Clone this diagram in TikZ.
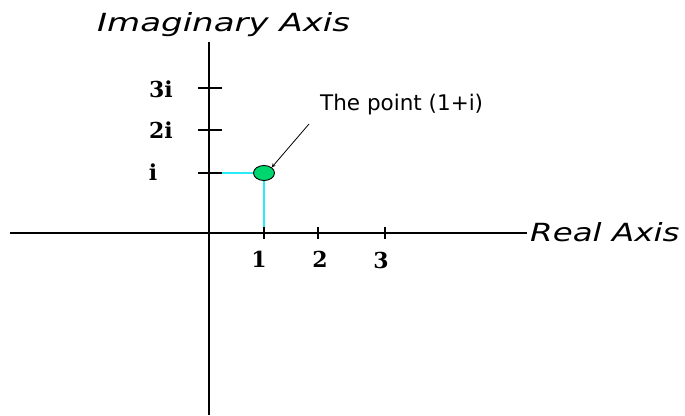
\documentclass[tikz,border=0pt]{standalone}
\usepackage{fontspec}
\setmainfont{DejaVu Sans}
\newfontfamily\lblfont{DejaVu Serif}
\usetikzlibrary{shapes.geometric}
\definecolor{ptgreen}{RGB}{0,214,110}
\definecolor{guidecyan}{RGB}{40,235,245}
\begin{document}
\begin{tikzpicture}[x=1pt,y=-1pt,
  axis/.style={line width=1.2pt,black},
  tick/.style={line width=1.1pt,black},
  guide/.style={line width=1.5pt,guidecyan},
  lbl/.style={font=\lblfont\bfseries\fontsize{22}{22}\selectfont,inner sep=0pt},
  title/.style={font=\fontsize{25}{25}\selectfont\itshape,inner sep=0pt}]
\useasboundingbox (0,0) rectangle (685,415);
\fill[white] (0,0) rectangle (685,415);
% axes
\coordinate (ytop) at (209,42);
\coordinate (ybot) at (209,415);
\coordinate (xl) at (10,233);
\coordinate (xr) at (527,233);
\draw[axis] (ytop) -- (ybot);
\draw[axis] (xl) -- (xr);
% y ticks
\foreach \y/\n in {88/3,130/2,173/1}{
  \coordinate (yt\n a) at (198,\y);
  \coordinate (yt\n b) at (222,\y);
  \draw[tick] (yt\n a) -- (yt\n b);
}
% x ticks
\foreach \x/\n in {264/1,318/2,385/3}{
  \coordinate (xt\n a) at (\x,227);
  \coordinate (xt\n b) at (\x,239);
  \draw[tick] (xt\n a) -- (xt\n b);
}
% labels
\node[lbl] (l3i) at (161,89) {3i};
\node[lbl] (l2i) at (161,130) {2i};
\node[lbl] (li) at (153,172) {i};
\node[lbl] (l1) at (259,259) {1};
\node[lbl] (l2) at (320,259) {2};
\node[lbl] (l3) at (381,260) {3};
% point
\node[ellipse,draw=black,line width=0.9pt,fill=ptgreen,minimum width=21pt,minimum height=15pt,inner sep=0pt] (pt) at (264,173) {};
\draw[guide] (yt1b) -- (pt.west);
\draw[guide] (pt.south) -- (xt1a);
% titles
\node[title,anchor=west] (ia) at (97,25) {\scalebox{1.36}[1]{Imaginary Axis}};
\node[title,anchor=west] (ra) at (530,232) {\scalebox{1.3}[1]{Real Axis}};
\node[font=\fontsize{21.5}{21.5}\selectfont,anchor=west,inner sep=0pt] (tp) at (320,105) {The point (1+i)};
\coordinate (as) at (309,124);
\draw[-stealth,line width=0.8pt] (as) -- (pt.north east);
\end{tikzpicture}
\end{document}
